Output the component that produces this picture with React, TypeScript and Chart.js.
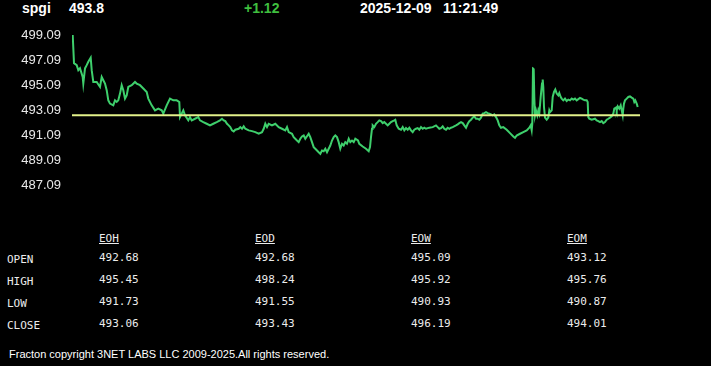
import React, { useEffect, useRef } from 'react';
import { Chart, registerables } from 'chart.js';

Chart.register(...registerables);

const symbol = 'spgi';
const lastPrice = '493.8';
const change = '+1.12';
const quoteDate = '2025-12-09';
const quoteTime = '11:21:49';
const prevClose = 492.68;
const yTicks = [499.09, 497.09, 495.09, 493.09, 491.09, 489.09, 487.09];
const xMax = 568;

const sampleT = [
  0.7, 2, 4.7, 6.3, 8, 10.7, 11.3, 13, 14.7, 16.3, 18.7, 19.7, 21.3, 24.7, 28, 29.7, 31.3, 33, 34.7, 36.3, 38, 41.3, 43, 44.7, 46.3, 48, 49.7, 51.3, 53, 54.7, 56.3, 59.7, 63, 64.7, 68, 71.3, 74.7, 76.3, 79.7, 83, 86.3, 89.7, 91.3, 94.7, 98, 101.3, 104.7, 107.3, 108, 109.7, 111.3, 113, 116.3, 118, 119.7, 123, 126.3, 128, 131.3, 134.7, 138, 141.3, 144.7, 148,
  150, 151.7, 153.3, 155, 156.7, 158.3, 160, 161.7, 163.3, 166.7, 168.3, 170, 171.7, 173.3, 176.7, 180, 183.3, 186.7, 190, 191.7, 193.3, 195, 196.7, 200, 203.3, 206.7, 210, 213.3, 215, 216.7, 220, 221.7, 225, 226.7, 228.3, 230, 231.7, 233.3, 236.7, 238.3, 240, 241.7, 243.3, 245, 246.7, 248.3, 250, 251.7, 253.3, 255, 256.7, 258.3, 260, 261.7, 263.3, 265, 266.7, 268.3, 270, 271.7, 273.3, 275, 276.7, 278.3, 280, 281.7, 283.3, 286,
  287.3, 290.7, 294, 296.7, 298, 299, 300, 300.7, 302.3, 304, 305.7, 307.3, 309, 310.7, 312.3, 314, 315.7, 317.3, 319, 320.7, 322.3, 323.3, 324.7, 326.7, 329, 330.7, 332.3, 334, 335.7, 337.3, 339, 340.7, 342.3, 344, 345.7, 347.3, 349, 350.7, 352.3, 354, 355.7, 357.3, 360.7, 364, 365.7, 367.3, 369, 370.7, 372.3, 374, 375.7, 377.3, 379, 380.7, 384, 385.7, 387.3, 389, 390.7, 392.3, 394, 395.7, 397.3, 399, 400.7, 402.3, 404, 405.7, 407.3, 409, 410.7, 412.3, 414, 415.7, 417.3, 419, 420.7, 422.3, 424, 425.7, 427.3, 429,
  431.3, 434.7, 438, 441.3, 443, 444.7, 448, 451.3, 454.7, 457.3, 458.7, 459.7, 460.3, 461, 461.7, 462.3, 463, 464, 465.3, 466.3, 467.3, 468.7, 470, 470.7, 471.3, 472, 473, 474.7, 476.3, 477.3, 478, 479.7, 480.7, 482, 483.3, 484.7, 486.3, 487.3, 488.7, 489.7, 491.3, 493, 494.7, 496.3, 498, 499.7, 501.3, 503, 504.7, 508, 509.7, 511.3, 513, 514.7, 515.7, 516.3, 517.3, 519.7, 523, 524.7, 526.3, 528, 529.7, 531.3, 533, 534.7, 536.3, 538, 539.7, 541.3, 542.3, 544, 544.7, 545.7, 547.3, 548.7, 549.7, 550.7, 551.3, 552, 553, 554.7, 556.3, 558, 559.7, 561.3, 562.3, 563.3, 564.7, 565.7,
];

const prices = [
  499.09, 496.84, 496.68, 496.28, 496.44, 495.74, 495.21, 496.42, 496.68, 496.95, 497.27, 496.28, 495.34, 495.34, 494.94, 495.74, 495.48, 495.21, 494.68, 493.87, 493.61, 493.47, 493.87, 493.74, 493.87, 494.41, 495.08, 494.68, 494.01, 494.27, 494.94, 495.08, 495.34, 495.21, 495.08, 494.81, 494.54, 494.01, 493.47, 493.07, 493.21, 493.07, 492.81, 493.47, 494.01, 493.87, 493.87, 493.74, 492.53, 492.81, 493.07, 492.67, 492.27, 492.53, 492.27, 492.40, 492.53, 492.27, 492.13, 492.00, 491.87, 492.00, 492.13, 492.27,
  492.40, 492.27, 492.21, 492.00, 491.87, 491.73, 491.47, 491.39, 491.52, 491.60, 491.73, 491.60, 491.79, 491.60, 491.47, 491.41, 491.33, 491.20, 491.33, 491.60, 492.00, 491.73, 492.00, 491.87, 492.00, 491.73, 491.60, 491.47, 491.73, 491.33, 491.20, 490.93, 490.66, 490.53, 490.80, 490.98, 491.06, 490.80, 491.20, 490.93, 490.53, 490.13, 490.00, 489.86, 489.72, 489.60, 489.86, 489.80, 490.00, 489.72, 490.00, 490.26, 490.66, 490.93, 491.06, 490.93, 490.53, 490.00, 490.40, 490.26, 490.53, 490.40, 490.80, 490.53, 490.66, 490.53, 490.80, 490.66,
  490.40, 490.18, 490.00, 489.80, 490.13, 490.93, 491.60, 491.87, 491.73, 492.00, 492.13, 492.27, 492.21, 492.05, 492.13, 492.00, 491.87, 492.00, 492.13, 492.21, 492.27, 492.32, 491.87, 491.60, 491.52, 491.73, 491.47, 491.65, 491.52, 491.68, 491.47, 491.33, 491.52, 491.60, 491.65, 491.52, 491.73, 491.60, 491.68, 491.60, 491.65, 491.68, 491.73, 491.87, 491.73, 491.60, 491.65, 491.79, 491.60, 491.52, 491.68, 491.60, 491.68, 491.73, 491.87, 491.95, 492.05, 492.13, 492.05, 491.87, 491.68, 492.00, 492.21, 492.32, 492.49, 492.59, 492.40, 492.40, 492.32, 492.49, 492.81, 492.85, 492.93, 492.85, 492.81, 492.75, 492.67, 492.75, 492.53, 492.27, 491.87, 491.68,
  491.73, 491.52, 491.25, 490.98, 490.88, 491.06, 491.20, 491.33, 491.47, 491.68, 491.87, 491.47, 492.00, 496.42, 496.39, 494.14, 492.67, 493.07, 492.67, 493.07, 492.81, 494.14, 495.21, 495.53, 494.94, 493.34, 492.49, 492.32, 492.49, 493.07, 492.93, 493.07, 494.14, 494.54, 494.73, 494.41, 494.27, 494.46, 494.14, 494.01, 493.87, 494.01, 493.82, 493.93, 493.87, 494.01, 493.93, 494.01, 493.87, 494.06, 494.01, 493.93, 493.87, 493.87, 493.74, 492.53, 492.40, 492.32, 492.40, 492.27, 492.21, 492.13, 492.21, 492.05, 492.13, 492.32, 492.40, 492.49, 492.59, 492.81, 493.21, 493.29, 493.07, 493.39, 493.21, 493.47, 493.07, 492.67, 493.21, 493.61, 493.87, 494.01, 494.14, 494.19, 494.09, 494.01, 493.74, 493.87, 493.61, 493.34,
];

const periodLabels = ['EOH', 'EOD', 'EOW', 'EOM'];
const rowLabels = ['OPEN', 'HIGH', 'LOW', 'CLOSE'];
const eohValues = ['492.68', '495.45', '491.73', '493.06'];
const eodValues = ['492.68', '498.24', '491.55', '493.43'];
const eowValues = ['495.09', '495.92', '490.93', '496.19'];
const eomValues = ['493.12', '495.76', '490.87', '494.01'];
const footerText = 'Fracton copyright 3NET LABS LLC 2009-2025.All rights reserved.';

const sans = '"Liberation Sans", Arial, sans-serif';
const mono = '"DejaVu Sans Mono", "Liberation Mono", monospace';

export default function App() {
  const canvasRef = useRef<HTMLCanvasElement | null>(null);

  useEffect(() => {
    document.body.style.margin = '0';
    document.body.style.background = '#000';
    const canvas = canvasRef.current;
    if (!canvas) return;
    const chart = new Chart(canvas, {
      type: 'line',
      data: {
        datasets: [
          {
            data: [
              { x: 0, y: prevClose },
              { x: xMax, y: prevClose },
            ],
            borderColor: '#e2f08a',
            borderWidth: 2,
            pointRadius: 0,
          },
          {
            data: sampleT.map((t, i) => ({ x: t, y: prices[i] })),
            borderColor: '#3ecf6c',
            borderWidth: 2,
            pointRadius: 0,
            tension: 0,
          },
        ],
      },
      options: {
        responsive: false,
        animation: false,
        devicePixelRatio: 1,
        events: [],
        layout: { padding: { top: 35, right: 71, bottom: 0, left: 0 } },
        plugins: {
          legend: { display: false },
          tooltip: { enabled: false },
          title: { display: false },
        },
        scales: {
          x: { type: 'linear', min: 0, max: xMax, display: false },
          y: {
            type: 'linear',
            min: 487.09,
            max: 499.09,
            afterBuildTicks: (s: any) => {
              s.ticks = yTicks.map((v) => ({ value: v }));
            },
            afterFit: (s: any) => {
              s.width = 72;
            },
            grid: { display: false, drawTicks: false },
            border: { display: false },
            ticks: {
              color: '#e8e8e8',
              padding: 11,
              font: { family: sans, size: 13 },
              callback: (v: any) => Number(v).toFixed(2),
            },
          },
        },
      },
    } as any);
    return () => chart.destroy();
  }, []);

  const white = '#ececec';
  const cols = [
    { x: 99, label: periodLabels[0], values: eohValues },
    { x: 255, label: periodLabels[1], values: eodValues },
    { x: 411, label: periodLabels[2], values: eowValues },
    { x: 567, label: periodLabels[3], values: eomValues },
  ];
  const rowTops = [251, 273, 295, 317];

  const hdr = (text: string, left: number, color: string) => (
    <div
      style={{
        position: 'absolute',
        left,
        top: 0,
        font: `bold 14px ${sans}`,
        lineHeight: '16px',
        color,
        whiteSpace: 'nowrap',
      }}
    >
      {text}
    </div>
  );

  return (
    <div
      style={{
        position: 'fixed',
        left: 0,
        top: 0,
        width: 711,
        height: 366,
        background: '#000',
        overflow: 'hidden',
      }}
    >
      {hdr(symbol, 22, '#ffffff')}
      {hdr(lastPrice, 69, '#ffffff')}
      {hdr(change, 244, '#3fbf3f')}
      {hdr(quoteDate, 360, '#ffffff')}
      {hdr(quoteTime, 443, '#ffffff')}
      <canvas
        ref={canvasRef}
        width={711}
        height={204}
        style={{ position: 'absolute', left: 0, top: 0, width: 711, height: 204 }}
      />
      {cols.map((c) => (
        <div
          key={c.label}
          style={{
            position: 'absolute',
            left: c.x,
            top: 232,
            font: `11px ${mono}`,
            lineHeight: '13px',
            color: white,
            textDecoration: 'underline',
          }}
        >
          {c.label}
        </div>
      ))}
      {rowLabels.map((r, i) => (
        <div
          key={r}
          style={{
            position: 'absolute',
            left: 7,
            top: rowTops[i] + 2,
            font: `11px ${mono}`,
            lineHeight: '13px',
            color: white,
          }}
        >
          {r}
        </div>
      ))}
      {cols.map((c) =>
        c.values.map((v, i) => (
          <div
            key={c.label + i}
            style={{
              position: 'absolute',
              left: c.x,
              top: rowTops[i],
              font: `11px ${mono}`,
              lineHeight: '13px',
              color: white,
            }}
          >
            {v}
          </div>
        ))
      )}
      <div
        style={{
          position: 'absolute',
          left: 9,
          top: 348,
          font: `11px ${sans}`,
          lineHeight: '13px',
          color: '#ffffff',
          whiteSpace: 'nowrap',
        }}
      >
        {footerText}
      </div>
    </div>
  );
}
